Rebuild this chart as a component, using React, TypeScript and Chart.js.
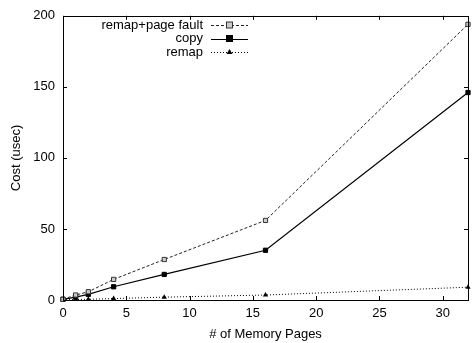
import React, { useEffect, useRef } from "react";
import { Chart, registerables } from "chart.js";

Chart.register(...registerables);

const pages = [0, 1, 2, 4, 8, 16, 32];
const remapPageFault = [0.5, 3.5, 5.8, 14.5, 28.5, 56, 194];
const copy = [0.5, 2, 4, 9.3, 18, 35, 146];
const remap = [0.2, 0.3, 0.5, 1, 2, 3.5, 9];
const xTicks = [0, 5, 10, 15, 20, 25, 30];
const yTicks = [0, 50, 100, 150, 200];
const seriesNames = ["remap+page fault", "copy", "remap"];

const FONT = "Liberation Sans, Arial, Helvetica, sans-serif";

const framePlugin = {
  id: "frame",
  afterDatasetsDraw(chart: any) {
    const { ctx, chartArea: a, scales } = chart;
    ctx.save();
    ctx.strokeStyle = "#000";
    ctx.lineWidth = 1;
    ctx.setLineDash([]);
    ctx.strokeRect(Math.round(a.left) + 0.5, Math.round(a.top) + 0.5, Math.round(a.right - a.left), Math.round(a.bottom - a.top));
    const L = 4;
    ctx.beginPath();
    for (const v of xTicks) {
      const x = Math.round(scales.x.getPixelForValue(v)) + 0.5;
      ctx.moveTo(x, a.bottom);
      ctx.lineTo(x, a.bottom - L);
      ctx.moveTo(x, a.top);
      ctx.lineTo(x, a.top + L);
    }
    for (const v of yTicks) {
      const y = Math.round(scales.y.getPixelForValue(v)) + 0.5;
      ctx.moveTo(a.left, y);
      ctx.lineTo(a.left + L, y);
      ctx.moveTo(a.right, y);
      ctx.lineTo(a.right - L, y);
    }
    ctx.stroke();

    // legend
    const rows = [25, 38.5, 52];
    const textRight = 203;
    const x0 = 211;
    const x1 = 248;
    const xm = (x0 + x1) / 2;
    ctx.font = `13px ${FONT}`;
    ctx.fillStyle = "#000";
    ctx.textAlign = "right";
    ctx.textBaseline = "middle";
    chart.data.datasets.forEach((ds: any, i: number) => {
      const y = rows[i];
      ctx.fillStyle = "#000";
      ctx.fillText(seriesNames[i], textRight, y);
      ctx.save();
      ctx.strokeStyle = ds.borderColor;
      ctx.lineWidth = ds.borderWidth;
      ctx.setLineDash(ds.borderDash || []);
      ctx.beginPath();
      ctx.moveTo(x0, Math.round(y) + 0.5);
      ctx.lineTo(x1, Math.round(y) + 0.5);
      ctx.stroke();
      ctx.restore();
      ctx.save();
      ctx.setLineDash([]);
      ctx.fillStyle = ds.pointBackgroundColor;
      ctx.strokeStyle = ds.pointBorderColor;
      ctx.lineWidth = 1;
      const r = ds.pointRadius;
      if (ds.pointStyle === "rect") {
        ctx.fillRect(xm - r, y - r, 2 * r, 2 * r);
        ctx.strokeRect(xm - r, y - r, 2 * r, 2 * r);
      } else {
        ctx.beginPath();
        ctx.moveTo(xm, y - r);
        ctx.lineTo(xm + r, y + r * 0.7);
        ctx.lineTo(xm - r, y + r * 0.7);
        ctx.closePath();
        ctx.fill();
      }
      ctx.restore();
    });
    ctx.restore();
  },
};

export default function App() {
  const ref = useRef<HTMLCanvasElement | null>(null);
  useEffect(() => {
    document.body.style.margin = "0";
    const canvas = ref.current!;
    const mk = (arr: number[]) => pages.map((p, i) => ({ x: p, y: arr[i] }));
    const chart = new Chart(canvas, {
      type: "line",
      data: {
        datasets: [
          {
            label: seriesNames[0],
            data: mk(remapPageFault),
            borderColor: "#222",
            borderWidth: 1,
            borderDash: [3, 2],
            pointStyle: "rect",
            pointRadius: 3,
            pointBackgroundColor: "#ccc",
            pointBorderColor: "#333",
            pointBorderWidth: 1,
            clip: false as any,
          },
          {
            label: seriesNames[1],
            data: mk(copy),
            borderColor: "#000",
            borderWidth: 1.2,
            pointStyle: "rect",
            pointRadius: 3,
            pointBackgroundColor: "#000",
            pointBorderColor: "#000",
            pointBorderWidth: 1,
            clip: false as any,
          },
          {
            label: seriesNames[2],
            data: mk(remap),
            borderColor: "#000",
            borderWidth: 1,
            borderDash: [1, 2],
            pointStyle: "triangle",
            pointRadius: 3,
            pointBackgroundColor: "#000",
            pointBorderColor: "#000",
            pointBorderWidth: 0,
            clip: false as any,
          },
        ],
      },
      options: {
        animation: false,
        responsive: false,
        devicePixelRatioOverride: 1 as any,
        layout: { padding: { top: 14, right: 3, left: 0, bottom: 0 } },
        plugins: { legend: { display: false }, tooltip: { enabled: false } },
        elements: { line: { tension: 0 } },
        scales: {
          x: {
            type: "linear",
            min: 0,
            max: 32,
            afterBuildTicks: (s: any) => {
              s.ticks = xTicks.map((v) => ({ value: v }));
            },
            afterFit: (s: any) => {
              s.height = 43;
            },
            grid: { display: false, drawTicks: false },
            border: { display: false },
            ticks: { color: "#000", font: { family: FONT, size: 13 }, padding: 6, maxRotation: 0, autoSkip: false },
            title: {
              display: true,
              text: "# of Memory Pages",
              color: "#000",
              font: { family: FONT, size: 13 },
              padding: { top: 0, bottom: 1 },
            },
          },
          y: {
            type: "linear",
            min: 0,
            max: 200,
            afterBuildTicks: (s: any) => {
              s.ticks = yTicks.map((v) => ({ value: v }));
            },
            afterFit: (s: any) => {
              s.width = 63;
            },
            grid: { display: false, drawTicks: false },
            border: { display: false },
            ticks: { color: "#000", font: { family: FONT, size: 13 }, padding: 8, autoSkip: false },
            title: {
              display: true,
              text: "Cost (usec)",
              color: "#000",
              font: { family: FONT, size: 13 },
              padding: { top: 9, bottom: 0 },
            },
          },
        },
      },
      plugins: [framePlugin],
    });
    return () => chart.destroy();
  }, []);
  return <canvas ref={ref} width={473} height={343} style={{ display: "block" }} />;
}
